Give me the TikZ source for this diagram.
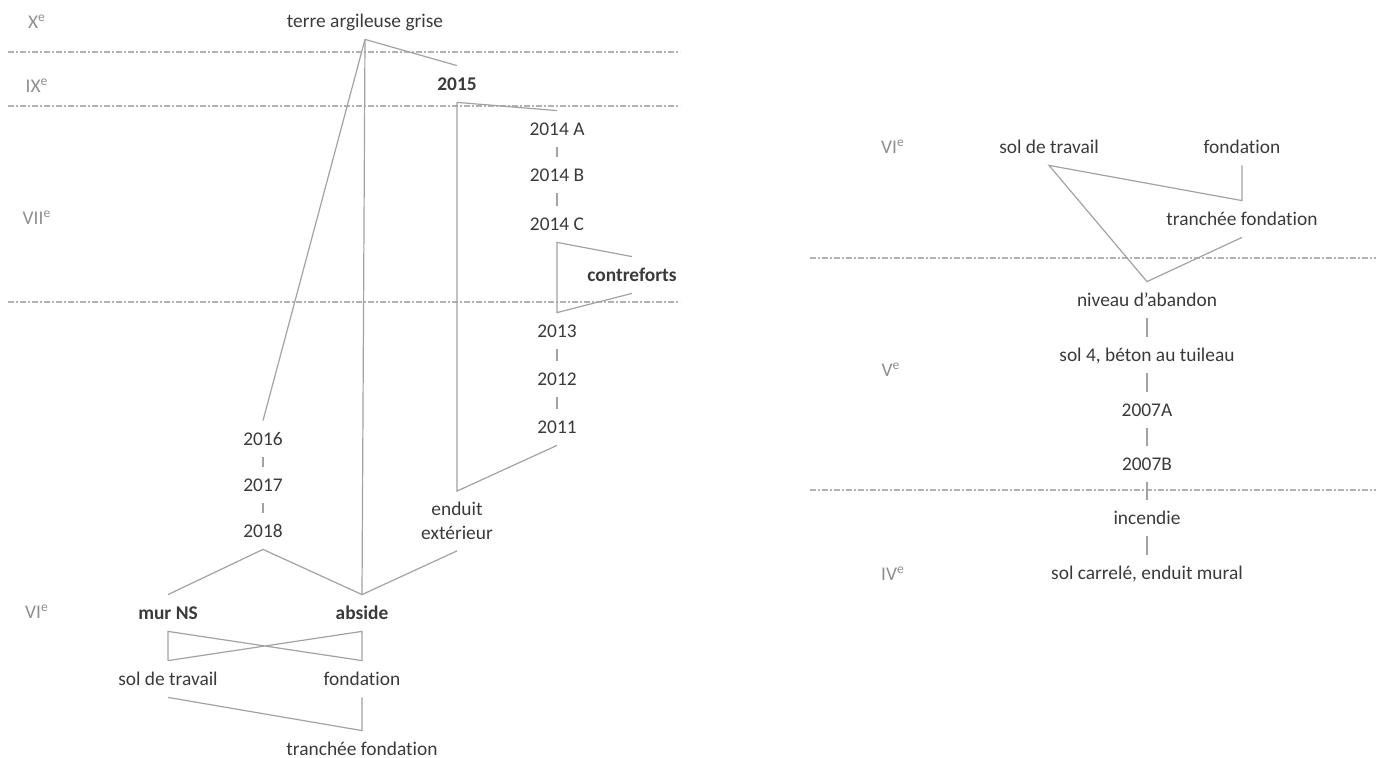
\documentclass[tikz,border=0pt]{standalone}
\usepackage{fontspec}
\setmainfont{Carlito}[Ligatures={NoCommon}]
\definecolor{inkgray}{HTML}{3A3A3A}
\definecolor{periodgray}{HTML}{8E8E8E}
\definecolor{linkgray}{HTML}{A2A2A2}
\definecolor{bandgray}{HTML}{B2B2B2}

\begin{document}
\begin{tikzpicture}[x=0.5pt,y=-0.5pt,
  font=\fontsize{9.7pt}{12pt}\selectfont,
  unitbox/.style={text=inkgray,inner sep=0pt,text height=6.2pt,text depth=0pt,minimum height=18pt},
  boldbox/.style={unitbox,font=\fontsize{9.7pt}{12pt}\selectfont\bfseries},
  periodlabel/.style={text=periodgray,inner sep=0pt},
  linkline/.style={draw=linkgray,line width=0.6pt},
  bandline/.style={draw=bandgray,line width=0.6pt,dash pattern=on 3pt off 1.2pt on 0.6pt off 1.2pt}]

  \useasboundingbox (0,0) rectangle (1376,758);

  % period bands
  \foreach \y in {52,106,302}
    \draw[bandline] (8,\y) -- (680,\y);
  \foreach \y in {258,490}
    \draw[bandline] (810,\y) -- (1376,\y);

  \node[periodlabel] (pX) at (37,22) {X\textsuperscript{e}};
  \node[periodlabel] (pIX) at (37,86) {IX\textsuperscript{e}};
  \node[periodlabel] (pVII) at (37,218) {VII\textsuperscript{e}};
  \node[periodlabel] (pVIl) at (37,612) {VI\textsuperscript{e}};
  \node[periodlabel] (pVIr) at (893,147) {VI\textsuperscript{e}};
  \node[periodlabel] (pV) at (891,370) {V\textsuperscript{e}};
  \node[periodlabel] (pIV) at (893,574) {IV\textsuperscript{e}};

  % left matrix
  \node[unitbox] (terre) at (365,21) {terre argileuse grise};
  \node[boldbox] (n2015) at (457,84) {2015};
  \node[unitbox] (n2014a) at (557,129) {2014 A};
  \node[unitbox] (n2014b) at (557,175) {2014 B};
  \node[unitbox] (n2014c) at (557,224) {2014 C};
  \node[boldbox] (contreforts) at (632,275) {contreforts};
  \node[unitbox] (n2013) at (557,331) {2013};
  \node[unitbox] (n2012) at (557,379) {2012};
  \node[unitbox] (n2011) at (557,427) {2011};
  \node[unitbox] (n2016) at (263,439) {2016};
  \node[unitbox] (n2017) at (263,485) {2017};
  \node[unitbox] (n2018) at (263,531) {2018};
  \node[unitbox,align=center,text height=18.2pt,text depth=0pt,minimum height=29.5pt] (enduit) at (457,521) {enduit\\extérieur};
  \node[boldbox] (murns) at (168,613) {mur NS};
  \node[boldbox] (abside) at (362,613) {abside};
  \node[unitbox] (solL) at (168,679) {sol de travail};
  \node[unitbox] (fondL) at (362,679) {fondation};
  \node[unitbox] (trancheeL) at (362,749) {tranchée fondation};

  % right matrix
  \node[unitbox] (solR) at (1049,147) {sol de travail};
  \node[unitbox] (fondR) at (1242,147) {fondation};
  \node[unitbox] (trancheeR) at (1242,219) {tranchée fondation};
  \node[unitbox] (abandon) at (1147,300) {niveau d’abandon};
  \node[unitbox] (sol4) at (1147,355) {sol 4, béton au tuileau};
  \node[unitbox] (n2007a) at (1147,410) {2007A};
  \node[unitbox] (n2007b) at (1147,464) {2007B};
  \node[unitbox] (incendie) at (1147,518) {incendie};
  \node[unitbox] (carrele) at (1147,573) {sol carrelé, enduit mural};

  % links
  \draw[linkline] (terre.south) -- (n2016.north);
  \draw[linkline] (terre.south) -- (abside.north);
  \draw[linkline] (terre.south) -- (n2015.north);
  \draw[linkline] (n2015.south) -- (n2014a.north);
  \draw[linkline] (n2015.south) -- (enduit.north) -- (n2011.south);
  \draw[linkline] (contreforts.north) -- (n2014c.south) -- (n2013.north) -- (contreforts.south);
  \foreach \a/\b in {n2014a/n2014b,n2014b/n2014c,n2013/n2012,n2012/n2011,n2016/n2017,n2017/n2018,
                     abandon/sol4,sol4/n2007a,n2007a/n2007b,n2007b/incendie,incendie/carrele}
    \draw[linkline] (\a.south) -- (\b.north);
  \draw[linkline] (murns.north) -- (n2018.south) -- (abside.north) -- (enduit.south);
  \draw[linkline] (solL.north) -- (murns.south) -- (fondL.north) -- (abside.south) -- (solL.north);
  \draw[linkline] (solL.south) -- (trancheeL.north) -- (fondL.south);
  \draw[linkline] (fondR.south) -- (trancheeR.north) -- (solR.south) -- (abandon.north) -- (trancheeR.south);

\end{tikzpicture}
\end{document}
